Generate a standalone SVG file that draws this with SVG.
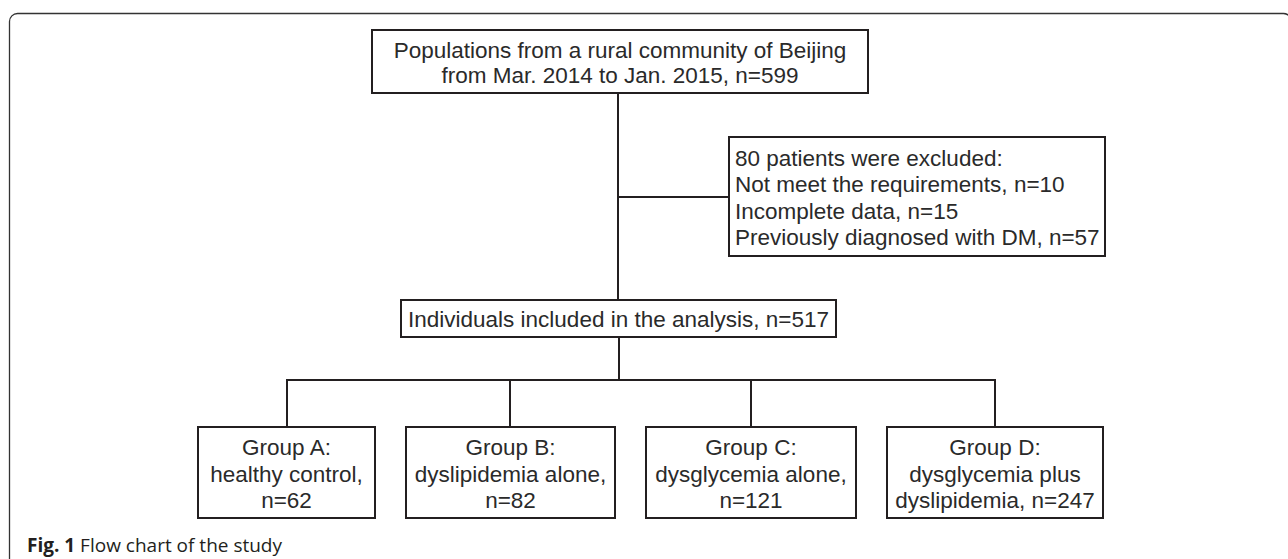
<svg xmlns="http://www.w3.org/2000/svg" width="1288" height="559" viewBox="0 0 1288 559">
  <style>
    .box { fill: #ffffff; stroke: #231f20; stroke-width: 2; }
    .wire { fill: none; stroke: #231f20; stroke-width: 2; }
    .t { font-family: "Liberation Sans", Arial, sans-serif; font-size: 22.5px; fill: #2a2a2a; }
    .c { text-anchor: middle; }
    .cap { font-family: "Open Sans", "Liberation Sans", sans-serif; font-size: 19px; fill: #231f20; }
  </style>
  <rect x="0" y="0" width="1288" height="559" fill="#ffffff"/>
  <rect id="frame" x="9.5" y="13.5" width="1282" height="620" rx="8" ry="8" fill="none" stroke="#333333" stroke-width="1.3"/>

  <g id="connectors">
    <line class="wire" x1="618" y1="93" x2="618" y2="300"/>
    <line class="wire" x1="618" y1="197" x2="729" y2="197"/>
    <line class="wire" x1="619" y1="337" x2="619" y2="380"/>
    <line class="wire" x1="286" y1="380" x2="996" y2="380"/>
    <line class="wire" x1="287" y1="380" x2="287" y2="427"/>
    <line class="wire" x1="510" y1="380" x2="510" y2="427"/>
    <line class="wire" x1="751" y1="380" x2="751" y2="427"/>
    <line class="wire" x1="995" y1="380" x2="995" y2="427"/>
  </g>

  <g id="node-population">
    <rect class="box" x="372" y="30" width="496" height="63"/>
    <text class="t c" x="620" y="58">Populations from a rural community of Beijing</text>
    <text class="t c" x="620" y="83">from Mar. 2014 to Jan. 2015, n=599</text>
  </g>

  <g id="node-excluded">
    <rect class="box" x="729" y="137" width="376" height="119"/>
    <text class="t" x="735" y="166">80 patients were excluded:</text>
    <text class="t" x="735" y="192">Not meet the requirements, n=10</text>
    <text class="t" x="735" y="219">Incomplete data, n=15</text>
    <text class="t" x="735" y="245">Previously diagnosed with DM, n=57</text>
  </g>

  <g id="node-included">
    <rect class="box" x="401" y="300" width="435" height="37"/>
    <text class="t c" x="618.5" y="327">Individuals included in the analysis, n=517</text>
  </g>

  <g id="node-groupA">
    <rect class="box" x="198" y="427" width="177" height="91"/>
    <text class="t c" x="286.5" y="455">Group A:</text>
    <text class="t c" x="286.5" y="482">healthy control,</text>
    <text class="t c" x="286.5" y="508">n=62</text>
  </g>

  <g id="node-groupB">
    <rect class="box" x="406" y="427" width="209" height="91"/>
    <text class="t c" x="510.5" y="455">Group B:</text>
    <text class="t c" x="510.5" y="482">dyslipidemia alone,</text>
    <text class="t c" x="510.5" y="508">n=82</text>
  </g>

  <g id="node-groupC">
    <rect class="box" x="646" y="427" width="210" height="91"/>
    <text class="t c" x="751" y="455">Group C:</text>
    <text class="t c" x="751" y="482">dysglycemia alone,</text>
    <text class="t c" x="751" y="508">n=121</text>
  </g>

  <g id="node-groupD">
    <rect class="box" x="887" y="427" width="216" height="91"/>
    <text class="t c" x="995" y="455">Group D:</text>
    <text class="t c" x="995" y="482">dysglycemia plus</text>
    <text class="t c" x="995" y="508">dyslipidemia, n=247</text>
  </g>

  <text id="caption" class="cap" x="27" y="552"><tspan font-weight="bold">Fig. 1</tspan> Flow chart of the study</text>
</svg>
